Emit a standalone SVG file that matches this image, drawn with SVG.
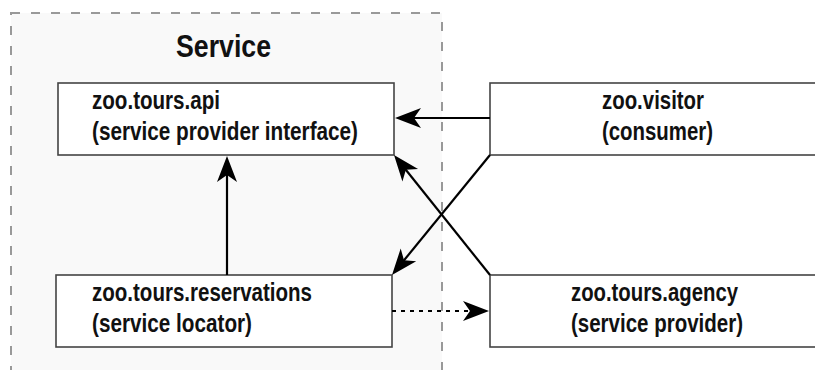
<svg xmlns="http://www.w3.org/2000/svg" xmlns:xlink="http://www.w3.org/1999/xlink" width="815" height="370" viewBox="0 0 815 370">
  <defs>
    <style>
      .container { fill: #f9f9f9; stroke: #999999; stroke-width: 2; stroke-dasharray: 9 11; }
      .box { fill: #ffffff; stroke: #444444; stroke-width: 1.6; }
      .title { font-family: "Liberation Sans", Arial, sans-serif; font-weight: bold; font-size: 31px; fill: #111111; }
      .label { font-family: "Liberation Sans", Arial, sans-serif; font-weight: bold; font-size: 26.5px; fill: #111111; }
      .conn { fill: none; stroke: #000000; stroke-width: 2.2; }
      .dashed { stroke-dasharray: 4 5; }
      .head { fill: #000000; stroke: none; }
    </style>
    <path id="head" class="head" d="M0,0 L-26,-10 L-19,0 L-26,10 Z"/>
  </defs>

  <rect x="0" y="0" width="815" height="370" fill="#ffffff"/>

  <g id="service">
    <rect class="container" x="11" y="13" width="431" height="380"/>
    <text class="title" x="223.5" y="57" text-anchor="middle" textLength="95" lengthAdjust="spacingAndGlyphs">Service</text>
  </g>

  <g id="api">
    <rect class="box" x="58" y="83" width="336" height="72"/>
    <text class="label" x="92" y="109" textLength="128" lengthAdjust="spacingAndGlyphs">zoo.tours.api</text>
    <text class="label" x="92" y="140" textLength="266" lengthAdjust="spacingAndGlyphs">(service provider interface)</text>
  </g>

  <g id="reservations">
    <rect class="box" x="56" y="275" width="336" height="72"/>
    <text class="label" x="92" y="301" textLength="220" lengthAdjust="spacingAndGlyphs">zoo.tours.reservations</text>
    <text class="label" x="92" y="332" textLength="160" lengthAdjust="spacingAndGlyphs">(service locator)</text>
  </g>

  <g id="visitor">
    <rect class="box" x="490" y="83" width="340" height="72"/>
    <text class="label" x="602" y="109" textLength="102" lengthAdjust="spacingAndGlyphs">zoo.visitor</text>
    <text class="label" x="602" y="140" textLength="111" lengthAdjust="spacingAndGlyphs">(consumer)</text>
  </g>

  <g id="agency">
    <rect class="box" x="490" y="275" width="340" height="72"/>
    <text class="label" x="571" y="301" textLength="167" lengthAdjust="spacingAndGlyphs">zoo.tours.agency</text>
    <text class="label" x="571" y="332" textLength="172" lengthAdjust="spacingAndGlyphs">(service provider)</text>
  </g>

  <g id="connectors">
    <line class="conn" x1="490" y1="118" x2="405" y2="118"/>
    <use xlink:href="#head" href="#head" transform="translate(395 118) rotate(180)"/>

    <line class="conn" x1="227" y1="275" x2="227" y2="166"/>
    <use xlink:href="#head" href="#head" transform="translate(227 156) rotate(-90)"/>

    <line class="conn" x1="490" y1="155" x2="398.3" y2="267.3"/>
    <use xlink:href="#head" href="#head" transform="translate(392 275) rotate(129.2)"/>

    <line class="conn" x1="490" y1="275" x2="400.2" y2="162.8"/>
    <use xlink:href="#head" href="#head" transform="translate(394 155) rotate(-128.66)"/>

    <line class="conn dashed" x1="392" y1="311" x2="475" y2="311"/>
    <use xlink:href="#head" href="#head" transform="translate(489 311)"/>
  </g>
</svg>
